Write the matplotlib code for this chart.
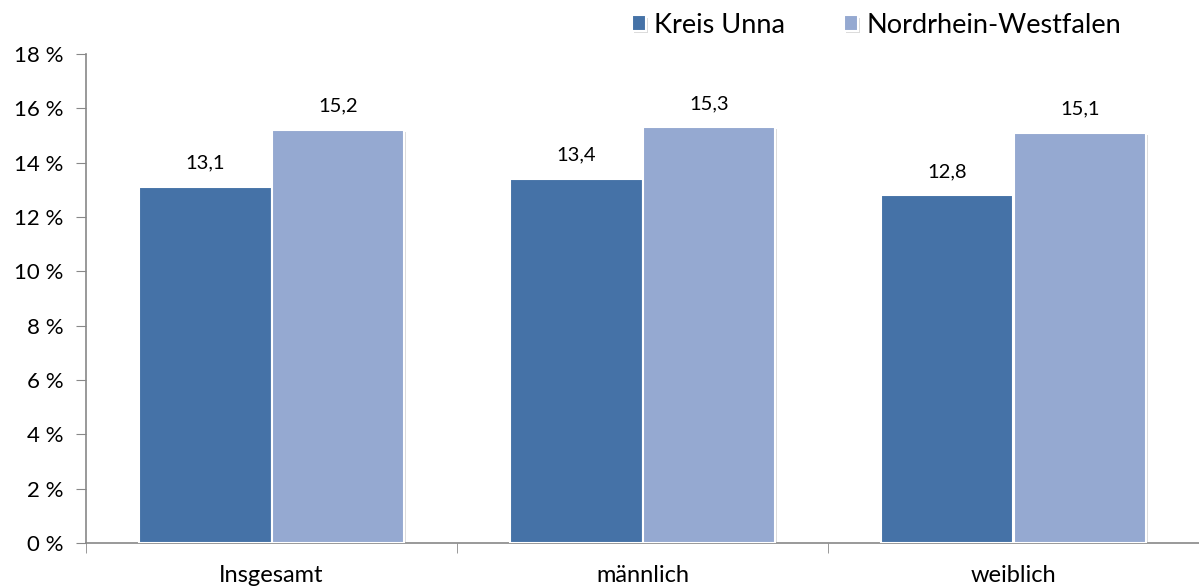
import numpy as np
import matplotlib
matplotlib.use("Agg")
import matplotlib.pyplot as plt
import matplotlib.patheffects as pe

# data
categories = ["Insgesamt", "männlich", "weiblich"]
kreis_unna = [13.1, 13.4, 12.8]
nrw = [15.2, 15.3, 15.1]
series_names = ["Kreis Unna", "Nordrhein-Westfalen"]
colors = ["#4572A7", "#95A9D1"]

plt.rcParams['font.family'] = ['Lato', 'DejaVu Sans']

fig = plt.figure(figsize=(11.99, 5.88), dpi=100)
ax = fig.add_axes([86/1199, 1-543/588, 1113/1199, 489/588])

x = np.arange(len(categories))
w = 0.357
shadow = [pe.SimplePatchShadow(offset=(1.5, -1.5), shadow_rgbFace='#999999', alpha=0.35), pe.Normal()]
b1 = ax.bar(x - w/2, kreis_unna, w, color=colors[0], edgecolor='white', linewidth=1.5,
            label=series_names[0], path_effects=shadow, zorder=3)
b2 = ax.bar(x + w/2, nrw, w, color=colors[1], edgecolor='white', linewidth=1.5,
            label=series_names[1], path_effects=shadow, zorder=3)

for bars, vals in [(b1, kreis_unna), (b2, nrw)]:
    for r, v in zip(bars, vals):
        ax.annotate(f"{v:.1f}".replace('.', ','), (r.get_x() + r.get_width()/2, v),
                    xytext=(0, 11), textcoords='offset points', ha='center', va='bottom',
                    fontsize=14.5)

ax.set_xlim(-0.5, 2.5)
ax.set_ylim(0, 18)
ax.set_yticks(np.arange(0, 19, 2))
ax.set_yticklabels([f"{t} %" for t in range(0, 19, 2)], fontsize=16)
ax.set_xticks(x)
ax.set_xticklabels(categories, fontsize=17)
ax.tick_params(axis='x', length=0, pad=16)
ax.set_xticks([-0.5, 0.5, 1.5, 2.5], minor=True)
ax.tick_params(axis='x', which='minor', length=7, color='#888888', direction='out')
ax.tick_params(axis='y', length=7, color='#888888', pad=9)

for s in ['top', 'right']:
    ax.spines[s].set_visible(False)
for s in ['left', 'bottom']:
    ax.spines[s].set_color('#888888')
    ax.spines[s].set_linewidth(1.2)

fig.legend(handles=[b1, b2], labels=series_names, loc='center', bbox_to_anchor=(0.731, 0.957),
           ncol=2, frameon=False, fontsize=19.5, handlelength=0.5, handleheight=0.5,
           handletextpad=0.3, columnspacing=2.2)

fig.savefig("out.png", dpi=100)
